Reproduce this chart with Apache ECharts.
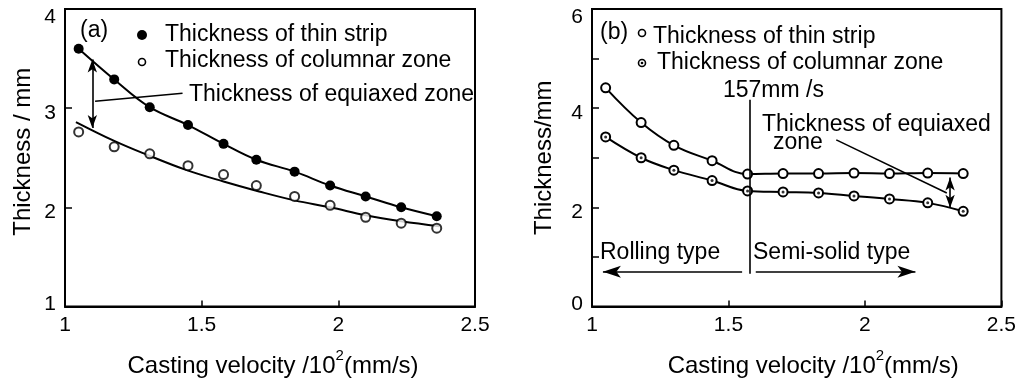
<!DOCTYPE html>
<html>
<head>
<meta charset="utf-8">
<script src="https://cdn.jsdelivr.net/npm/echarts@6/dist/echarts.min.js"></script>
<style>
html, body { margin: 0; padding: 0; background: #fff; }
#chart { width: 1019px; height: 383px; }
</style>
</head>
<body>
<div id="chart"></div>
<script>
// (a) values
var velocityA = [1.05, 1.18, 1.31, 1.45, 1.58, 1.70, 1.84, 1.97, 2.10, 2.23, 2.36];
var stripA = [3.60, 3.29, 3.01, 2.83, 2.64, 2.48, 2.36, 2.22, 2.11, 2.00, 1.91];
var columnarA = [2.76, 2.61, 2.54, 2.42, 2.33, 2.22, 2.11, 2.02, 1.90, 1.84, 1.79];
// fitted curve under the open circles
var fitVelocityA = [1.04, 1.18, 1.30, 1.44, 1.58, 1.71, 1.84, 1.97, 2.10, 2.23, 2.37];
var columnarFitA = [2.86, 2.67, 2.53, 2.38, 2.26, 2.16, 2.07, 2.00, 1.92, 1.86, 1.81];

// (b)
var velocityB = [1.05, 1.18, 1.30, 1.44, 1.57, 1.70, 1.83, 1.96, 2.09, 2.23, 2.36];
var stripB = [4.41, 3.71, 3.25, 2.94, 2.67, 2.68, 2.68, 2.69, 2.68, 2.69, 2.68];
var columnarB = [3.42, 3.00, 2.75, 2.54, 2.33, 2.31, 2.29, 2.23, 2.17, 2.09, 1.92];

// annotation lines (data coords)
var arrowA = [[1.10, 3.49], [1.10, 2.80]];
var leaderA = [[1.11, 3.07], [1.43, 3.15]];
var markB = [[1.577, 4.17], [1.577, 0.66]];
var leaderB = [[1.895, 3.36], [2.30, 2.29]];
var arrowB = [[2.312, 2.60], [2.312, 1.99]];
var rollArrow = [[1.55, 0.70], [1.04, 0.70]];
var semiArrow = [[1.60, 0.70], [2.185, 0.70]];

var FONT = 'Liberation Sans';
var chart = echarts.init(document.getElementById('chart'));

function pairs(xs, ys) {
    return xs.map(function(x, i) {
        return [x, ys[i]];
    });
}

function xAxisOpt(idx, pad) {
    return {
        type: 'value', gridIndex: idx, min: 1, max: 2.5, interval: 0.5,
        axisLine: {show: true, lineStyle: {color: '#000', width: 2}},
        axisTick: {show: true, inside: true, length: 6, lineStyle: {color: '#000', width: 1.5}},
        axisLabel: {color: '#000', fontSize: 21, fontFamily: FONT, margin: 8},
        splitLine: {show: false},
        name: 'Casting velocity /10{sup|2}(mm/s)',
        nameLocation: 'middle',
        nameGap: 42,
        nameTextStyle: {
            color: '#000', fontSize: 24, fontFamily: FONT, padding: pad,
            rich: {sup: {fontSize: 15, fontFamily: FONT, color: '#000', padding: [0, 0, 20, 0]}}
        }
    };
}

function yAxisOpt(idx, min, max, gap, pad, name, evenOnly) {
    return {
        type: 'value', gridIndex: idx, min: min, max: max, interval: 1,
        axisLine: {show: true, lineStyle: {color: '#000', width: 2}},
        axisTick: {show: true, inside: true, length: 7, lineStyle: {color: '#000', width: 1.5}},
        axisLabel: {
            color: '#000', fontSize: 21, fontFamily: FONT, margin: 9,
            formatter: function(v) {
                if (evenOnly && v % 2 !== 0) return '';
                if (v === max) return '{hi|' + v + '}';
                if (v === min) return '{lo|' + v + '}';
                return '{mid|' + v + '}';
            },
            rich: {
                hi: {fontSize: 21, fontFamily: FONT, color: '#000', padding: [16, 0, 0, 0]},
                mid: {fontSize: 21, fontFamily: FONT, color: '#000', padding: [10, 0, 0, 0]},
                lo: {fontSize: 21, fontFamily: FONT, color: '#000', padding: [0, 0, 4, 0]}
            }
        },
        splitLine: {show: false},
        name: name,
        nameLocation: 'middle',
        nameGap: gap,
        nameTextStyle: {color: '#000', fontSize: 24, fontFamily: FONT, padding: pad}
    };
}

var lineSty = {color: '#000', width: 2, type: 'solid'};

function seg(p, withArrow) {
    var s = withArrow ? 'arrow' : 'none';
    return [{coord: p[0], symbol: s, symbolSize: [7, 13]}, {coord: p[1], symbol: s, symbolSize: [7, 13]}];
}

function segOneWay(p) {
    return [{coord: p[0], symbol: 'none'}, {coord: p[1], symbol: 'arrow', symbolSize: [9, 18]}];
}

function txt(x, y, s) {
    return {
        type: 'text', x: x, y: y, z: 100,
        style: {text: s, fill: '#000', font: '23px "' + FONT + '"', verticalAlign: 'middle', align: 'left'}
    };
}

var option = {
    animation: false,
    backgroundColor: '#fff',
    grid: [
        {left: 65, right: 544, top: 9, bottom: 72, show: true, borderColor: '#000', borderWidth: 2},
        {left: 592, right: 14, top: 9, bottom: 72, show: true, borderColor: '#000', borderWidth: 2}
    ],
    xAxis: [xAxisOpt(0, [0, 0, 0, 6]), xAxisOpt(1, [0, 0, 0, 33])],
    yAxis: [
        yAxisOpt(0, 1, 4, 30, [0, 0, 0, 12], 'Thickness / mm', false),
        yAxisOpt(1, 0, 6, 36, [0, 0, 0, 0], 'Thickness/mm', true)
    ],
    series: [
        {
            type: 'line', xAxisIndex: 0, yAxisIndex: 0, smooth: 0.4,
            data: pairs(velocityA, stripA),
            symbol: 'circle', symbolSize: 10,
            itemStyle: {color: '#000'},
            lineStyle: lineSty,
            markLine: {
                silent: true, animation: false, label: {show: false},
                lineStyle: {color: '#000', width: 1.6, type: 'solid'},
                data: [seg(arrowA, true), seg(leaderA, false)]
            }
        },
        {
            type: 'line', xAxisIndex: 0, yAxisIndex: 0, smooth: 0.4,
            data: pairs(fitVelocityA, columnarFitA),
            showSymbol: false, symbol: 'none',
            lineStyle: lineSty
        },
        {
            type: 'scatter', xAxisIndex: 0, yAxisIndex: 0, z: 5,
            data: pairs(velocityA, columnarA),
            symbol: 'circle', symbolSize: 9,
            itemStyle: {color: '#fff', borderColor: '#000', borderWidth: 2}
        },
        {
            type: 'line', xAxisIndex: 1, yAxisIndex: 1, smooth: 0.4,
            data: pairs(velocityB, stripB),
            symbol: 'circle', symbolSize: 9,
            itemStyle: {color: '#fff', borderColor: '#000', borderWidth: 2},
            lineStyle: lineSty,
            markLine: {
                silent: true, animation: false, label: {show: false},
                lineStyle: {color: '#000', width: 1.6, type: 'solid'},
                data: [seg(markB, false), seg(leaderB, false), seg(arrowB, true),
                    segOneWay(rollArrow), segOneWay(semiArrow)]
            }
        },
        {
            type: 'line', xAxisIndex: 1, yAxisIndex: 1, smooth: 0.4, z: 3,
            data: pairs(velocityB, columnarB),
            symbol: 'circle', symbolSize: 9,
            itemStyle: {color: '#fff', borderColor: '#000', borderWidth: 2},
            lineStyle: lineSty
        },
        {
            // centre dots of the columnar-zone markers
            type: 'scatter', xAxisIndex: 1, yAxisIndex: 1, z: 6,
            data: pairs(velocityB, columnarB),
            symbol: 'circle', symbolSize: 3,
            itemStyle: {color: '#000'}
        }
    ],
    graphic: [
        txt(80, 31, '(a)'),
        {type: 'circle', shape: {cx: 142, cy: 35, r: 5}, style: {fill: '#000'}},
        txt(165, 35, 'Thickness of thin strip'),
        {type: 'circle', shape: {cx: 142, cy: 62, r: 3.5}, style: {fill: '#fff', stroke: '#000', lineWidth: 1.6}},
        txt(165, 61, 'Thickness of columnar zone'),
        txt(189, 95, 'Thickness of equiaxed zone'),
        txt(600, 33, '(b)'),
        {type: 'circle', shape: {cx: 642, cy: 33, r: 3.5}, style: {fill: '#fff', stroke: '#000', lineWidth: 1.6}},
        txt(653, 37, 'Thickness of thin strip'),
        {type: 'circle', shape: {cx: 642, cy: 63, r: 3.5}, style: {fill: '#fff', stroke: '#000', lineWidth: 1.6}},
        {type: 'circle', shape: {cx: 642, cy: 63, r: 1.3}, style: {fill: '#000'}},
        txt(657, 63, 'Thickness of columnar zone'),
        txt(723, 91, '157mm /s'),
        txt(762, 125, 'Thickness of equiaxed'),
        txt(773, 143, 'zone'),
        txt(600, 253, 'Rolling type'),
        txt(753, 253, 'Semi-solid type')
    ]
};
chart.setOption(option);
</script>
</body>
</html>
